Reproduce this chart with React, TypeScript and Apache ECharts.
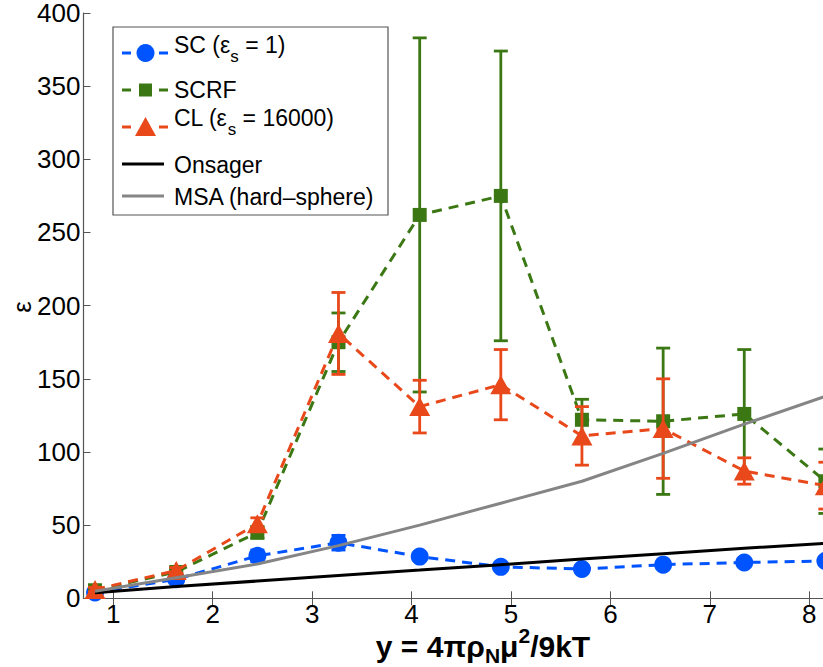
import React, { useEffect, useRef } from "react";
import * as echarts from "echarts";

// ---- data ----
const xVals = [0.816, 1.633, 2.449, 3.265, 4.082, 4.898, 5.714, 6.531, 7.347, 8.163];
const scVals = [4, 13, 29, 38, 28.5, 21.5, 20, 23, 24.5, 25.5];
const scErr = [1, 1.5, 4, 5, 2, 1.5, 1.5, 2, 1.5, 1.5];
const scrfVals = [5.5, 18, 45, 175, 262, 275, 122, 121, 126, 80];
const scrfErr = [1, 2, 4, 20, 121, 99, 14, 50, 44, 22];
const clVals = [6, 19, 51, 181, 131, 146, 111, 116, 87, 77];
const clErr = [1.5, 2, 4, 28, 18, 24, 20, 34, 9, 16];
const onsagerVals = [3.8, 8.1, 11.8, 15.6, 19.3, 23.0, 26.8, 30.5, 34.2, 37.5];
const msaVals = [4.8, 14, 23.5, 36, 50, 65, 80, 99, 119, 138];
const xTicks = [1, 2, 3, 4, 5, 6, 7, 8];

const FONT = "Liberation Sans";
const BLUE = "#0054ff";
const GREEN = "#3b7814";
const ORANGE = "#e8481a";
const GRAY = "#858585";

function pairs(vals: number[]) {
  return xVals.map((x, i) => [x, vals[i]]);
}
function errData(vals: number[], errs: number[]) {
  return xVals.map((x, i) => [x, vals[i] - errs[i], vals[i] + errs[i]]);
}

function errSeries(vals: number[], errs: number[], color: string, z: number) {
  return {
    type: "custom",
    z,
    data: errData(vals, errs),
    encode: { x: 0, y: [1, 2] },
    renderItem: (params: any, api: any) => {
      const x = api.value(0);
      const lo = api.coord([x, api.value(1)]);
      const hi = api.coord([x, api.value(2)]);
      const w = 7;
      const st = { stroke: color, lineWidth: 2.8 };
      return {
        type: "group",
        children: [
          { type: "line", shape: { x1: lo[0], y1: lo[1], x2: hi[0], y2: hi[1] }, style: st },
          { type: "line", shape: { x1: lo[0] - w, y1: lo[1], x2: lo[0] + w, y2: lo[1] }, style: st },
          { type: "line", shape: { x1: hi[0] - w, y1: hi[1], x2: hi[0] + w, y2: hi[1] }, style: st },
        ],
      };
    },
  };
}

function lineSeries(name: string, vals: number[], color: string, symbol: string, size: any, z: number) {
  return {
    name,
    type: "line",
    z,
    data: pairs(vals),
    symbol,
    symbolSize: size,
    showSymbol: true,
    itemStyle: { color },
    lineStyle: { color, width: 3, type: [10, 7] },
  };
}

export default function App() {
  const ref = useRef<HTMLDivElement>(null);
  useEffect(() => {
    const chart = echarts.init(ref.current!, null, { renderer: "svg" });
    const tickLabel = { fontSize: 26, lineHeight: 26, color: "#000", fontFamily: FONT };
    const axLine = { show: true, lineStyle: { color: "#555", width: 1.2 } };
    const legTxt = { fontSize: 23, fill: "#000", fontFamily: FONT };

    const ctx = document.createElement("canvas").getContext("2d")!;
    const measure = (t: string, size: number, bold = false) => {
      ctx.font = `${bold ? "bold " : ""}${size}px "${FONT}"`;
      return ctx.measureText(t).width;
    };

    const run = (pieces: { t: string; s: number; dy: number }[], x0: number, yMid: number, bold: boolean, center: boolean) => {
      const widths = pieces.map((p) => measure(p.t, p.s, bold));
      const total = widths.reduce((a, b) => a + b, 0);
      let cx = center ? x0 - total / 2 : x0;
      return pieces.map((p, i) => {
        const el = {
          type: "text", x: cx, y: yMid + p.dy, z: 51,
          style: { text: p.t, fontSize: p.s, fontWeight: bold ? "bold" : "normal", fontFamily: FONT, fill: "#000", verticalAlign: "middle", align: "left" },
        };
        cx += widths[i];
        return el;
      });
    };

    const xTitle = run(
      [
        { t: "y = 4πρ", s: 30, dy: 0 },
        { t: "N", s: 21, dy: 9 },
        { t: "μ", s: 30, dy: 0 },
        { t: "2", s: 21, dy: -11 },
        { t: "/9kT", s: 30, dy: 0 },
      ],
      483, 646, true, true
    );
    const scText = run(
      [
        { t: "SC (ε", s: 23, dy: 0 },
        { t: "s", s: 17, dy: 11 },
        { t: " = 1)", s: 23, dy: 0 },
      ],
      174, 45, false, false
    );
    const clText = run(
      [
        { t: "CL (ε", s: 23, dy: 0 },
        { t: "s", s: 17, dy: 11 },
        { t: " = 16000)", s: 23, dy: 0 },
      ],
      174, 118, false, false
    );

    const leg: any[] = [
      { type: "rect", shape: { x: 113, y: 27, width: 275, height: 188 }, style: { fill: "#fff", stroke: "#555", lineWidth: 1.2 }, z: 50 },
      { type: "line", shape: { x1: 122, y1: 53, x2: 131, y2: 53 }, style: { stroke: BLUE, lineWidth: 3 }, z: 51 },
      { type: "line", shape: { x1: 159, y1: 53, x2: 168, y2: 53 }, style: { stroke: BLUE, lineWidth: 3 }, z: 51 },
      { type: "circle", shape: { cx: 145.5, cy: 53, r: 9 }, style: { fill: BLUE }, z: 51 },
      ...scText,
      { type: "line", shape: { x1: 122, y1: 90, x2: 131, y2: 90 }, style: { stroke: GREEN, lineWidth: 3 }, z: 51 },
      { type: "line", shape: { x1: 159, y1: 90, x2: 168, y2: 90 }, style: { stroke: GREEN, lineWidth: 3 }, z: 51 },
      { type: "rect", shape: { x: 139, y: 83.5, width: 13, height: 13 }, style: { fill: GREEN }, z: 51 },
      { type: "text", x: 174, y: 90, style: { ...legTxt, text: "SCRF", verticalAlign: "middle" }, z: 51 },
      { type: "line", shape: { x1: 122, y1: 127, x2: 131, y2: 127 }, style: { stroke: ORANGE, lineWidth: 3 }, z: 51 },
      { type: "line", shape: { x1: 159, y1: 127, x2: 168, y2: 127 }, style: { stroke: ORANGE, lineWidth: 3 }, z: 51 },
      { type: "polygon", shape: { points: [[145.5, 117], [156, 136], [135, 136]] }, style: { fill: ORANGE }, z: 51 },
      ...clText,
      { type: "line", shape: { x1: 122, y1: 164, x2: 164, y2: 164 }, style: { stroke: "#000", lineWidth: 3 }, z: 51 },
      { type: "text", x: 174, y: 165, style: { ...legTxt, text: "Onsager", verticalAlign: "middle" }, z: 51 },
      { type: "line", shape: { x1: 122, y1: 196, x2: 164, y2: 196 }, style: { stroke: GRAY, lineWidth: 3 }, z: 51 },
      { type: "text", x: 174, y: 197, style: { ...legTxt, text: "MSA (hard–sphere)", verticalAlign: "middle" }, z: 51 },
      { type: "text", x: 22, y: 307, rotation: Math.PI / 2, style: { text: "ε", fontSize: 26, fontFamily: FONT, fill: "#000", align: "center", verticalAlign: "middle" }, z: 51 },
      ...xTitle,
    ];
    chart.setOption({
      animation: false,
      backgroundColor: "#fff",
      grid: { left: 83.5, top: 12, width: 755.5, height: 586.3, containLabel: false },
      xAxis: [
        {
          type: "value", min: 0.7, max: 8.3, position: "bottom",
          axisLine: axLine,
          axisTick: { inside: true, length: 7, customValues: xTicks, lineStyle: { color: "#555" } },
          axisLabel: { ...tickLabel, customValues: xTicks, margin: 3 },
          splitLine: { show: false },
        },
        {
          type: "value", min: 0.7, max: 8.3, position: "top",
          axisLine: axLine,
          axisTick: { inside: true, length: 7, customValues: xTicks, lineStyle: { color: "#555" } },
          axisLabel: { show: false },
          splitLine: { show: false },
        },
      ],
      yAxis: [
        {
          type: "value", min: 0, max: 400, interval: 50, position: "left",
          axisLine: axLine,
          axisTick: { inside: true, length: 7, lineStyle: { color: "#555" } },
          axisLabel: { ...tickLabel, lineHeight: 20, margin: 3 },
          splitLine: { show: false },
        },
        {
          type: "value", min: 0, max: 400, interval: 50, position: "right",
          axisLine: axLine,
          axisTick: { inside: true, length: 7, lineStyle: { color: "#555" } },
          axisLabel: { show: false },
          splitLine: { show: false },
        },
      ],
      series: [
        errSeries(scVals, scErr, BLUE, 2),
        lineSeries("SC", scVals, BLUE, "circle", 18, 3),
        errSeries(scrfVals, scrfErr, GREEN, 4),
        lineSeries("SCRF", scrfVals, GREEN, "rect", 14, 5),
        errSeries(clVals, clErr, ORANGE, 6),
        lineSeries("CL", clVals, ORANGE, "triangle", [21, 19], 7),
        { name: "Onsager", type: "line", z: 8, data: pairs(onsagerVals), showSymbol: false, symbol: "none", lineStyle: { color: "#000", width: 3 } },
        { name: "MSA", type: "line", z: 9, data: pairs(msaVals), showSymbol: false, symbol: "none", lineStyle: { color: GRAY, width: 3 } },
      ],
      graphic: leg,
    });
    return () => chart.dispose();
  }, []);
  return (
    <div style={{ position: "fixed", left: 0, top: 0, width: 823, height: 667, overflow: "hidden", background: "#fff" }}>
      <div ref={ref} style={{ width: 850, height: 667 }} />
    </div>
  );
}
